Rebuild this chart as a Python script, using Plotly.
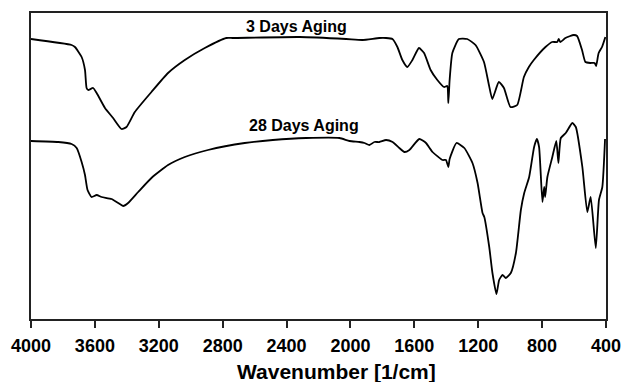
import plotly.graph_objects as go

# FTIR transmittance spectra (arbitrary units, offset for clarity)
wavenumber_3d = [4000, 3746, 3725, 3683, 3662, 3652, 3642, 3611, 3589, 3537, 3486, 3433,
                 3402, 3350, 3246, 3142, 3037, 2912, 2777, 2737, 2319, 2027, 1925, 1819,
                 1777, 1737, 1706, 1675, 1644, 1612, 1571, 1539, 1498, 1456, 1414, 1394,
                 1387, 1379, 1362, 1321, 1269, 1217, 1164, 1133, 1112, 1071, 1039, 998,
                 956, 914, 883, 852, 779, 737, 706, 696, 686, 654, 602, 581, 550, 529,
                 498, 471, 462, 446, 425, 404]
transmittance_3d = [280, 274, 272, 262, 249, 231, 229, 231, 226, 211, 201, 190,
                    192, 207, 227, 246, 259, 271, 281, 281, 282, 280, 279, 281,
                    281, 280, 272, 259, 252, 259, 271, 266, 249, 239, 232, 233,
                    216, 239, 266, 280, 280, 274, 257, 234, 220, 237, 231, 212,
                    214, 242, 252, 259, 272, 277, 277, 280, 277, 281, 284, 283, 269, 257,
                    256, 256, 253, 266, 272, 282]

wavenumber_28d = [4000, 3829, 3746, 3714, 3683, 3662, 3646, 3621, 3589, 3558, 3496, 3454,
                  3423, 3392, 3329, 3246, 3142, 3037, 2892, 2662, 2486, 2277, 2069, 2006,
                  1944, 1912, 1881, 1850, 1819, 1777, 1736, 1694, 1662, 1631, 1569, 1527,
                  1486, 1423, 1402, 1387, 1379, 1336, 1287, 1236, 1204, 1173, 1162, 1131,
                  1111, 1086, 1069, 1048, 1027, 996, 964, 933, 912, 881, 850, 833, 819,
                  798, 787, 781, 767, 736, 711, 698, 683, 652, 611, 589, 548, 517, 496,
                  464, 444, 423, 406]
transmittance_28d = [178, 177, 175, 171, 157, 144, 129, 122, 124, 122, 120, 116,
                     113, 116, 127, 141, 154, 162, 169, 176, 179, 181, 181, 178,
                     177, 176, 174, 177, 177, 179, 177, 171, 167, 169, 180, 176,
                     167, 159, 159, 152, 160, 176, 171, 156, 136, 106, 102, 72,
                     46, 25, 39, 44, 41, 46, 66, 109, 126, 142, 172, 180, 172,
                     117, 132, 122, 142, 162, 178, 156, 181, 186, 196, 192, 152, 107, 122,
                     71, 119, 132, 180]

series_names = ["3 Days Aging", "28 Days Aging"]
label_x = [2340, 2290]
label_y = [293, 194]

tick_vals = [4000, 3600, 3200, 2800, 2400, 2000, 1600, 1200, 800, 400]
tick_text = [str(v) for v in tick_vals]

fig = go.Figure()
for wn, tr, name in [(wavenumber_3d, transmittance_3d, series_names[0]),
                     (wavenumber_28d, transmittance_28d, series_names[1])]:
    fig.add_trace(go.Scatter(x=wn, y=tr, mode="lines", name=name,
                             line=dict(color="black", width=1.8, shape="spline", smoothing=0.5)))

for name, lx, ly in zip(series_names, label_x, label_y):
    fig.add_annotation(x=lx, y=ly, text=name, showarrow=False,
                       xanchor="center", yanchor="middle",
                       font=dict(family="Liberation Sans", size=16, color="black", weight="bold"))

# axis title, set slightly right of the plot centre
fig.add_annotation(xref="paper", yref="paper", x=0.532, y=-0.171,
                   text="Wavenumber [1/cm]", showarrow=False,
                   xanchor="center", yanchor="middle",
                   font=dict(family="Liberation Sans", size=21, color="black", weight="bold"))

fig.update_layout(
    width=633, height=382,
    margin=dict(l=31, r=27, t=13, b=63),
    paper_bgcolor="white", plot_bgcolor="white",
    showlegend=False,
)
fig.update_xaxes(
    range=[4000, 400], tickvals=tick_vals, ticktext=tick_text,
    ticks="outside", ticklen=7, tickwidth=2, tickcolor="#222",
    ticklabelstandoff=2,
    showline=True, linewidth=2, linecolor="#222", mirror=True,
    showgrid=False, zeroline=False,
    tickfont=dict(family="Liberation Sans", size=18, color="black", weight="bold"),
)
fig.update_yaxes(
    range=[0, 306], showticklabels=False, ticks="",
    showline=True, linewidth=2, linecolor="#222", mirror=True,
    showgrid=False, zeroline=False,
)

fig.write_html("out.html")
